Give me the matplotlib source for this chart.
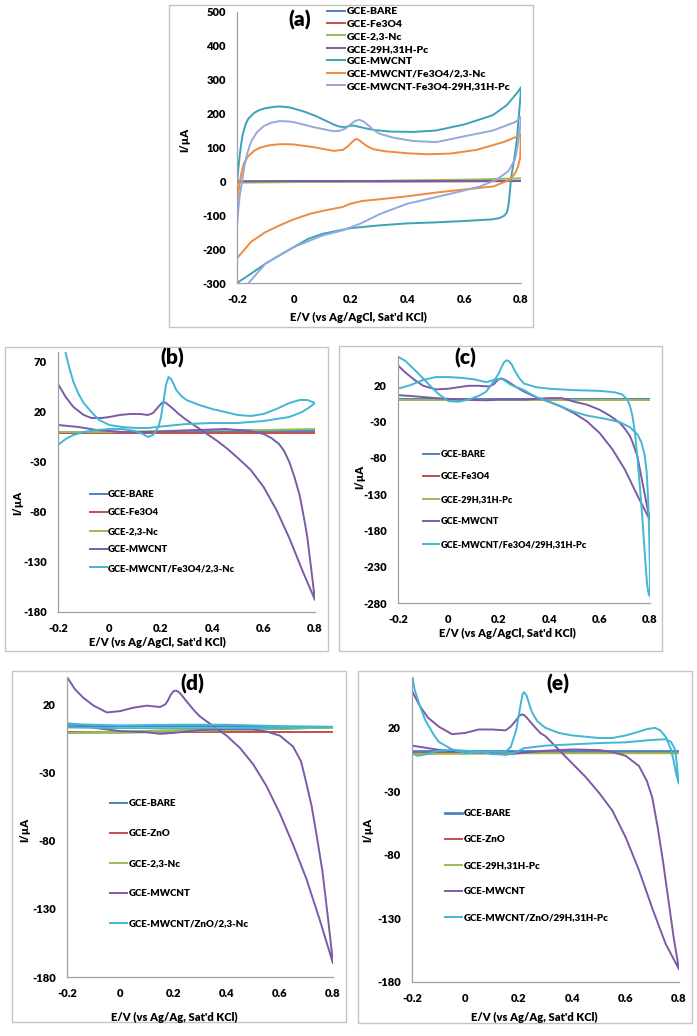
import matplotlib
matplotlib.use('Agg')
import matplotlib.pyplot as plt
from matplotlib.patches import Rectangle

plt.rcParams['font.family'] = ['Lato', 'DejaVu Sans']
plt.rcParams['font.weight'] = 'heavy'

W, H = 697, 1036
WT = 'heavy'

# -----------------------------
# colours
# -----------------------------
C_BLUE = '#4F81BD'
C_RED = '#C0504D'
C_GREEN = '#9BBB59'
C_PURPLE = '#7D5AA6'
C_TEAL = '#3BA3B8'
C_ORANGE = '#F08A3C'
C_PERI = '#93A9DC'
C_CYAN = '#41B6D5'

# -----------------------------
# data: panel (a)
# -----------------------------
a_bare_E = [-0.2, 0.0, 0.2, 0.4, 0.6, 0.8]
a_bare_I = [-1, 0, 0, 0, 1, 2]
a_fe_E = [-0.2, 0.0, 0.2, 0.4, 0.6, 0.8]
a_fe_I = [-1, -1, 0, 0, 0, 1]
a_nc_E = [-0.2, 0.0, 0.2, 0.4, 0.6, 0.8]
a_nc_I = [-4, -2, 0, 3, 5, 9]
a_pc_E = [-0.2, 0.0, 0.2, 0.4, 0.6, 0.8]
a_pc_I = [0, 1, 1, 1, 1, 1]
a_mwcnt_E = [-0.2, -0.195, -0.19, -0.185, -0.18, -0.17, -0.16, -0.14, -0.12, -0.1, -0.07,
             -0.05, -0.02, 0.0, 0.04, 0.08, 0.12, 0.14, 0.16, 0.18, 0.2, 0.21, 0.225,
             0.25, 0.28, 0.34, 0.42, 0.5, 0.6, 0.7, 0.75, 0.77, 0.79, 0.8,
             0.798, 0.795, 0.79, 0.785, 0.775, 0.765, 0.76, 0.755, 0.75, 0.74, 0.725,
             0.7, 0.6, 0.5, 0.4, 0.3, 0.2, 0.1, 0.05, 0.0, -0.05, -0.1, -0.15, -0.2]
a_mwcnt_I = [-10, 40, 80, 112, 138, 168, 185, 202, 211, 216, 220,
             221, 219, 215, 205, 192, 176, 168, 162, 160, 164, 165, 162,
             157, 152, 147, 146, 150, 168, 195, 225, 245, 265, 278,
             250, 220, 170, 120, 60, 10, -40, -75, -92, -102, -108,
             -112, -117, -121, -124, -130, -138, -155, -170, -194, -218, -243, -272, -300]
a_nc_comp_E = [-0.2, -0.195, -0.19, -0.183, -0.175, -0.16, -0.14, -0.12, -0.09, -0.06,
               -0.03, 0.0, 0.07, 0.14, 0.173, 0.19, 0.205, 0.215, 0.222, 0.23, 0.24,
               0.26, 0.28, 0.32, 0.4, 0.47, 0.55, 0.644, 0.738, 0.78, 0.8,
               0.799, 0.797, 0.79, 0.78, 0.761, 0.703, 0.6, 0.5, 0.4, 0.3, 0.24, 0.2,
               0.17, 0.12, 0.06, 0.0, -0.05, -0.1, -0.15, -0.2]
a_nc_comp_I = [-71, -30, 0, 30, 55, 75, 90, 99, 106, 109,
               110, 109, 101, 90, 93, 103, 116, 123, 125, 122, 115,
               103, 95, 89, 83, 80, 82, 93, 116, 130, 141,
               110, 70, 45, 25, 5, -15, -24, -33, -44, -53, -58, -66,
               -76, -84, -95, -112, -130, -150, -178, -227]
a_pc_comp_E = [-0.2, -0.195, -0.19, -0.182, -0.175, -0.165, -0.15, -0.13, -0.106, -0.08,
               -0.05, -0.02, 0.0, 0.07, 0.14, 0.16, 0.18, 0.2, 0.215, 0.23, 0.245,
               0.263, 0.28, 0.304, 0.351, 0.421, 0.503, 0.6, 0.7, 0.78, 0.8,
               0.797, 0.79, 0.779, 0.755, 0.714, 0.656, 0.585, 0.503, 0.4, 0.304, 0.234,
               0.17, 0.1, 0.0, -0.1, -0.159]
a_pc_comp_I = [-130, -80, -40, 0, 40, 80, 118, 145, 163, 173,
               178, 177, 175, 160, 148, 149, 155, 168, 178, 182, 177,
               165, 152, 140, 129, 119, 116, 133, 150, 175, 190,
               160, 113, 64, 30, 5, -15, -30, -46, -66, -96, -125,
               -145, -160, -194, -243, -300]

# -----------------------------
# data: panel (b)
# -----------------------------
b_bare_E = [-0.2, 0.0, 0.2, 0.4, 0.6, 0.8]
b_bare_I = [0, 0, 0, 1, 1, 1]
b_fe_E = [-0.2, 0.0, 0.2, 0.4, 0.6, 0.8]
b_fe_I = [-1, -1, -1, -1, -1, -1]
b_nc_E = [-0.2, 0.0, 0.2, 0.4, 0.6, 0.8]
b_nc_I = [0, 0, 1, 2, 2, 3]
b_mwcnt_E = [-0.2, -0.17, -0.14, -0.1, -0.07, -0.03, 0.0, 0.04, 0.08, 0.12, 0.15, 0.17,
             0.19, 0.2, 0.21, 0.22, 0.24, 0.27, 0.3, 0.34, 0.38, 0.42, 0.46, 0.5, 0.55,
             0.6, 0.65, 0.7, 0.75, 0.8,
             0.795, 0.79, 0.78, 0.77, 0.76, 0.75, 0.74, 0.72, 0.7, 0.68, 0.66, 0.63,
             0.6, 0.55, 0.5, 0.45, 0.35, 0.25, 0.15, 0.05, -0.05, -0.12, -0.2]
b_mwcnt_I = [48, 35, 25, 17, 14, 14, 15, 17, 18, 18, 17, 19,
             25, 28, 30, 29, 25, 18, 12, 5, -2, -9, -17, -26, -38,
             -55, -78, -106, -138, -168,
             -158, -147, -126, -105, -90, -76, -63, -45, -30, -19, -12, -6,
             -2, 1, 2, 3, 2, 1, 0, 0, 2, 5, 7]
b_comp_E = [-0.2, -0.17, -0.14, -0.1, -0.05, 0.0, 0.05, 0.1, 0.13, 0.15, 0.17, 0.19,
            0.2, 0.21, 0.22, 0.23, 0.24, 0.25, 0.26, 0.28, 0.3, 0.35, 0.4, 0.45, 0.5,
            0.55, 0.6, 0.65, 0.7, 0.74, 0.77, 0.8,
            0.78, 0.75, 0.7, 0.6, 0.5, 0.4, 0.3, 0.22, 0.15, 0.1, 0.05, 0.0, -0.04,
            -0.07, -0.1, -0.12, -0.14, -0.16, -0.18]
b_comp_I = [-13, -7, -3, 0, 2, 3, 3, 1, -2, -5, -3, 5,
            14, 30, 47, 55, 53, 48, 42, 36, 32, 27, 23, 20, 17,
            16, 18, 23, 29, 32, 32, 29,
            25, 20, 15, 11, 9, 9, 8, 6, 4, 4, 5, 7, 12,
            20, 29, 38, 50, 68, 90]

# -----------------------------
# data: panel (c)
# -----------------------------
c_bare_E = [-0.2, 0.0, 0.2, 0.4, 0.6, 0.8]
c_bare_I = [1, 1, 1, 1, 1, 1]
c_fe_E = [-0.2, 0.0, 0.2, 0.4, 0.6, 0.8]
c_fe_I = [-1, -1, -1, -1, -1, -1]
c_pc_E = [-0.2, 0.0, 0.2, 0.4, 0.6, 0.8]
c_pc_I = [-1, -1, -1, -1, -1, -1]
c_mwcnt_E = [-0.2, -0.17, -0.13, -0.1, -0.05, 0.0, 0.04, 0.08, 0.12, 0.16, 0.18, 0.19,
             0.2, 0.21, 0.22, 0.24, 0.27, 0.3, 0.35, 0.4, 0.45, 0.5, 0.55, 0.6, 0.65,
             0.7, 0.75, 0.8,
             0.79, 0.78, 0.765, 0.75, 0.73, 0.72, 0.7, 0.68, 0.64, 0.6, 0.55, 0.5, 0.45,
             0.4, 0.35, 0.3, 0.2, 0.15, 0.05, -0.05, -0.15, -0.2]
c_mwcnt_I = [47, 37, 26, 19, 14, 15, 17, 19, 19, 18, 21, 25,
             28, 29, 28, 24, 17, 11, 3, -3, -10, -19, -30, -46, -68,
             -96, -132, -166,
             -150, -132, -105, -78, -58, -50, -40, -32, -22, -14, -7, -3, 2,
             2, 1, 0, 0, -1, 0, 2, 5, 6]
c_comp_E = [-0.2, -0.17, -0.14, -0.1, -0.07, -0.04, 0.0, 0.04, 0.08, 0.12, 0.15, 0.18,
            0.2, 0.21, 0.22, 0.23, 0.24, 0.25, 0.26, 0.28, 0.3, 0.35, 0.4, 0.5, 0.6,
            0.66, 0.69, 0.71, 0.72, 0.73, 0.74, 0.75, 0.76, 0.77, 0.78, 0.785, 0.79,
            0.795, 0.8,
            0.8, 0.797, 0.793, 0.787, 0.778, 0.765, 0.75, 0.72, 0.68, 0.63, 0.55, 0.5,
            0.45, 0.4, 0.35, 0.3, 0.25, 0.21, 0.18, 0.15, 0.1, 0.05, 0.0, -0.05, -0.1,
            -0.15, -0.2]
c_comp_I = [59, 53, 43, 29, 18, 8, -2, -3, 0, 5, 11, 25,
            36, 44, 51, 54, 53, 49, 42, 30, 22, 17, 15, 13, 12,
            10, 7, 0, -8, -22, -45, -80, -120, -165, -215, -240, -258,
            -268, -271,
            -240, -190, -140, -100, -75, -58, -48, -38, -31, -27, -22, -17,
            -10, -3, 3, 13, 20, 29, 27, 24, 28, 30, 31, 31, 27,
            20, 15]

# -----------------------------
# data: panel (d)
# -----------------------------
d_bare_E = [-0.2, 0.0, 0.2, 0.4, 0.6, 0.8]
d_bare_I = [4, 4, 4, 4, 3, 3]
d_zno_E = [-0.2, 0.0, 0.2, 0.4, 0.6, 0.8]
d_zno_I = [0, 0, 0, 0, 0, 0]
d_nc_E = [-0.2, 0.0, 0.2, 0.4, 0.6, 0.8, 0.6, 0.4, 0.2, 0.0, -0.2]
d_nc_I = [-1, -1, 0, 1, 2, 3, 2, 2, 1, 0, -1]
d_mwcnt_E = [-0.2, -0.17, -0.14, -0.1, -0.05, 0.0, 0.05, 0.1, 0.15, 0.17, 0.18, 0.19,
             0.2, 0.21, 0.22, 0.23, 0.25, 0.28, 0.3, 0.35, 0.4, 0.45, 0.5, 0.55, 0.6,
             0.65, 0.7, 0.75, 0.8,
             0.79, 0.78, 0.76, 0.74, 0.72, 0.7, 0.68, 0.65, 0.6, 0.55, 0.5, 0.4, 0.3,
             0.2, 0.15, 0.1, 0.0, -0.1, -0.15, -0.2]
d_mwcnt_I = [40, 31, 25, 19, 14, 15, 17.5, 19, 18, 20, 23, 27,
             29.5, 30, 29, 27, 22, 15, 11, 4, -3, -12, -24, -40, -60,
             -83, -108, -138, -170,
             -152, -135, -102, -78, -55, -38, -22, -11, -3, 0, 1.5, 2, 1,
             -1, -1.7, -0.5, 0.3, 2.8, 5, 6]
d_comp_E = [-0.2, 0.0, 0.2, 0.4, 0.6, 0.8, 0.6, 0.4, 0.2, 0.0, -0.2]
d_comp_I = [5.5, 4.5, 5, 5, 4, 3.5, 2.5, 2.5, 2.5, 2.5, 3]

# -----------------------------
# data: panel (e)
# -----------------------------
e_bare_E = [-0.2, 0.0, 0.2, 0.4, 0.6, 0.8]
e_bare_I = [1.5, 1.5, 1.5, 1.5, 1.5, 1.5]
e_zno_E = [-0.2, 0.0, 0.2, 0.4, 0.6, 0.8]
e_zno_I = [0.5, 0.5, 0.5, 0.5, 0.5, 0.5]
e_pc_E = [-0.2, 0.0, 0.2, 0.4, 0.6, 0.8]
e_pc_I = [-0.5, -0.5, 0, 0, 0, 0]
e_mwcnt_E = [-0.2, -0.17, -0.14, -0.1, -0.05, 0.0, 0.05, 0.1, 0.15, 0.17, 0.19, 0.2,
             0.21, 0.22, 0.23, 0.25, 0.28, 0.3, 0.35, 0.4, 0.45, 0.5, 0.55, 0.6, 0.65,
             0.7, 0.75, 0.8,
             0.78, 0.76, 0.74, 0.72, 0.7, 0.68, 0.65, 0.6, 0.55, 0.5, 0.4, 0.3, 0.2,
             0.15, 0.1, 0.0, -0.1, -0.2]
e_mwcnt_I = [49, 37, 28, 21, 15, 16, 18.7, 18.7, 18, 21, 26, 29,
             30.6, 30, 28, 23, 16, 13.4, 2.7, -8, -18.6, -31, -45, -66, -92,
             -122, -150, -170,
             -145, -115, -85, -58, -35, -22, -10, -2, 1, 2.5, 3, 2, 0,
             -1, 0, 1, 2.7, 6]
e_comp_E = [-0.2, -0.19, -0.17, -0.15, -0.12, -0.1, -0.05, 0.0, 0.05, 0.1, 0.15, 0.17,
            0.19, 0.2, 0.21, 0.215, 0.22, 0.23, 0.24, 0.25, 0.27, 0.3, 0.35, 0.4, 0.5,
            0.55, 0.6, 0.65, 0.68, 0.71, 0.73, 0.75, 0.77, 0.78, 0.79, 0.8,
            0.795, 0.79, 0.785, 0.77, 0.75, 0.7, 0.6, 0.5, 0.4, 0.3, 0.22, 0.18, 0.15,
            0.1, 0.05, 0.0, -0.05, -0.1, -0.15, -0.18, -0.2]
e_comp_I = [62, 50, 37, 26, 15, 9, 3, 0, 1, 1.4, 1, 5,
            18, 30, 42, 47, 48, 45, 38, 32, 25, 20, 16, 14, 12,
            12, 14, 17, 19, 20, 18, 13, 3, -6, -17, -24,
            -16, -5, 3, 9, 11, 10.5, 8.6, 8, 7, 6, 4, 0, -1,
            -0.7, 1.4, 2, 2.7, 2, -1, -2, 0]

x_ticks = [-0.2, 0.0, 0.2, 0.4, 0.6, 0.8]
x_tick_labels = ['-0.2', '0', '0.2', '0.4', '0.6', '0.8']

fig = plt.figure(figsize=(W / 100, H / 100), dpi=100)


def px_axes(x0, x1, ytop, ybot):
    return fig.add_axes([x0 / W, 1 - ybot / H, (x1 - x0) / W, (ybot - ytop) / H])


def frame(x0, y0, x1, y1):
    fig.add_artist(Rectangle((x0 / W, 1 - y1 / H), (x1 - x0) / W, (y1 - y0) / H,
                             transform=fig.transFigure, fill=False,
                             edgecolor='#C4C4C4', lw=1.0))


def style(ax, ylim, yticks):
    ax.set_xlim(-0.2, 0.8)
    ax.set_ylim(*ylim)
    ax.set_xticks(x_ticks)
    ax.set_xticklabels(x_tick_labels)
    ax.set_yticks(yticks)
    ax.set_yticklabels([str(t) for t in yticks])
    for s in ['top', 'right']:
        ax.spines[s].set_visible(False)
    for s in ['left', 'bottom']:
        ax.spines[s].set_color('#A0A0A0')
        ax.spines[s].set_linewidth(0.9)
    ax.tick_params(length=0, labelsize=8, pad=8)
    for lab in ax.get_xticklabels() + ax.get_yticklabels():
        lab.set_fontweight(WT)
    ax.patch.set_alpha(0)


def legend(ax, x, y, fs, ls):
    ax.legend(loc='upper left', bbox_to_anchor=(x / W, 1 - y / H),
              bbox_transform=fig.transFigure, frameon=False,
              handlelength=1.75, handletextpad=0.15, borderpad=0, borderaxespad=0,
              labelspacing=ls, prop={'weight': WT, 'size': fs})


def ftext(x, y, s, size, rot=0):
    fig.text(x / W, 1 - y / H, s, ha='center', va='center', fontsize=size,
             fontweight=WT, rotation=rot)


LW = 1.4

# -----------------------------
# (a)
# -----------------------------
frame(169, 5, 533, 327)
ax = px_axes(237, 521, 12, 283)
ax.plot(a_bare_E, a_bare_I, color=C_BLUE, lw=LW, label='GCE-BARE')
ax.plot(a_fe_E, a_fe_I, color=C_RED, lw=LW, label='GCE-Fe3O4')
ax.plot(a_nc_E, a_nc_I, color=C_GREEN, lw=LW, label='GCE-2,3-Nc')
ax.plot(a_pc_E, a_pc_I, color=C_PURPLE, lw=LW, label='GCE-29H,31H-Pc')
ax.plot(a_mwcnt_E, a_mwcnt_I, color=C_TEAL, lw=LW, label='GCE-MWCNT')
ax.plot(a_nc_comp_E, a_nc_comp_I, color=C_ORANGE, lw=LW, label='GCE-MWCNT/Fe3O4/2,3-Nc')
ax.plot(a_pc_comp_E, a_pc_comp_I, color=C_PERI, lw=LW, label='GCE-MWCNT-Fe3O4-29H,31H-Pc')
style(ax, (-300, 500), list(range(-300, 501, 100)))
legend(ax, 327, 7, 7.5, 0.3)
ftext(300, 20, '(a)', 15)
ftext(358, 317, "E/V (vs Ag/AgCl, Sat'd KCl)", 8)
ftext(185, 140, 'I/µA', 8, 90)

# -----------------------------
# (b)
# -----------------------------
frame(5, 347, 328, 651)
ax = px_axes(58, 315, 352, 612)
ax.plot(b_bare_E, b_bare_I, color=C_BLUE, lw=LW, label='GCE-BARE')
ax.plot(b_fe_E, b_fe_I, color=C_RED, lw=LW, label='GCE-Fe3O4')
ax.plot(b_nc_E, b_nc_I, color=C_GREEN, lw=LW, label='GCE-2,3-Nc')
ax.plot(b_mwcnt_E, b_mwcnt_I, color=C_PURPLE, lw=LW, label='GCE-MWCNT')
ax.plot(b_comp_E, b_comp_I, color=C_CYAN, lw=LW, label='GCE-MWCNT/Fe3O4/2,3-Nc')
style(ax, (-180, 80), [-180, -130, -80, -30, 20, 70])
legend(ax, 90, 490, 6.8, 1.0)
ftext(172, 358, '(b)', 15)
ftext(157, 642, "E/V (vs Ag/AgCl, Sat'd KCl)", 8)
ftext(18, 503, 'I/µA', 8, 90)

# -----------------------------
# (c)
# -----------------------------
frame(339, 346, 662, 651)
ax = px_axes(398, 650, 356, 603)
ax.plot(c_bare_E, c_bare_I, color=C_BLUE, lw=LW, label='GCE-BARE')
ax.plot(c_fe_E, c_fe_I, color=C_RED, lw=LW, label='GCE-Fe3O4')
ax.plot(c_pc_E, c_pc_I, color=C_GREEN, lw=LW, label='GCE-29H,31H-Pc')
ax.plot(c_mwcnt_E, c_mwcnt_I, color=C_PURPLE, lw=LW, label='GCE-MWCNT')
ax.plot(c_comp_E, c_comp_I, color=C_CYAN, lw=LW, label='GCE-MWCNT/Fe3O4/29H,31H-Pc')
style(ax, (-280, 60), [-280, -230, -180, -130, -80, -30, 20])
legend(ax, 423, 450, 6.6, 1.47)
ftext(465, 358, '(c)', 15)
ftext(507, 633, "E/V (vs Ag/AgCl, Sat'd KCl)", 8)
ftext(360, 477, 'I/µA', 8, 90)

# -----------------------------
# (d)
# -----------------------------
frame(12, 671, 346, 1022)
ax = px_axes(67, 333, 677, 977)
ax.plot(d_bare_E, d_bare_I, color=C_BLUE, lw=LW, label='GCE-BARE')
ax.plot(d_zno_E, d_zno_I, color=C_RED, lw=LW, label='GCE-ZnO')
ax.plot(d_nc_E, d_nc_I, color=C_GREEN, lw=LW, label='GCE-2,3-Nc')
ax.plot(d_mwcnt_E, d_mwcnt_I, color=C_PURPLE, lw=LW, label='GCE-MWCNT')
ax.plot(d_comp_E, d_comp_I, color=C_CYAN, lw=LW, label='GCE-MWCNT/ZnO/2,3-Nc')
style(ax, (-180, 40), [-180, -130, -80, -30, 20])
legend(ax, 110, 799, 7, 2.16)
ftext(192, 684, '(d)', 15)
ftext(174, 1017, "E/V (vs Ag/Ag, Sat'd KCl)", 8)
ftext(25, 830, 'I/µA', 8, 90)

# -----------------------------
# (e)
# -----------------------------
frame(358, 671, 692, 1023)
ax = px_axes(412, 679, 677, 982)
ax.plot(e_bare_E, e_bare_I, color=C_BLUE, lw=2.0, label='GCE-BARE')
ax.plot(e_zno_E, e_zno_I, color=C_RED, lw=LW, label='GCE-ZnO')
ax.plot(e_pc_E, e_pc_I, color=C_GREEN, lw=LW, label='GCE-29H,31H-Pc')
ax.plot(e_mwcnt_E, e_mwcnt_I, color=C_PURPLE, lw=LW, label='GCE-MWCNT')
ax.plot(e_comp_E, e_comp_I, color=C_CYAN, lw=LW, label='GCE-MWCNT/ZnO/29H,31H-Pc')
style(ax, (-180, 60), [-180, -130, -80, -30, 20])
legend(ax, 445, 809, 7, 1.76)
ftext(558, 684, '(e)', 15)
ftext(534, 1017, "E/V (vs Ag/Ag, Sat'd KCl)", 8)
ftext(368, 830, 'I/µA', 8, 90)

fig.savefig('out.png', dpi=100)
